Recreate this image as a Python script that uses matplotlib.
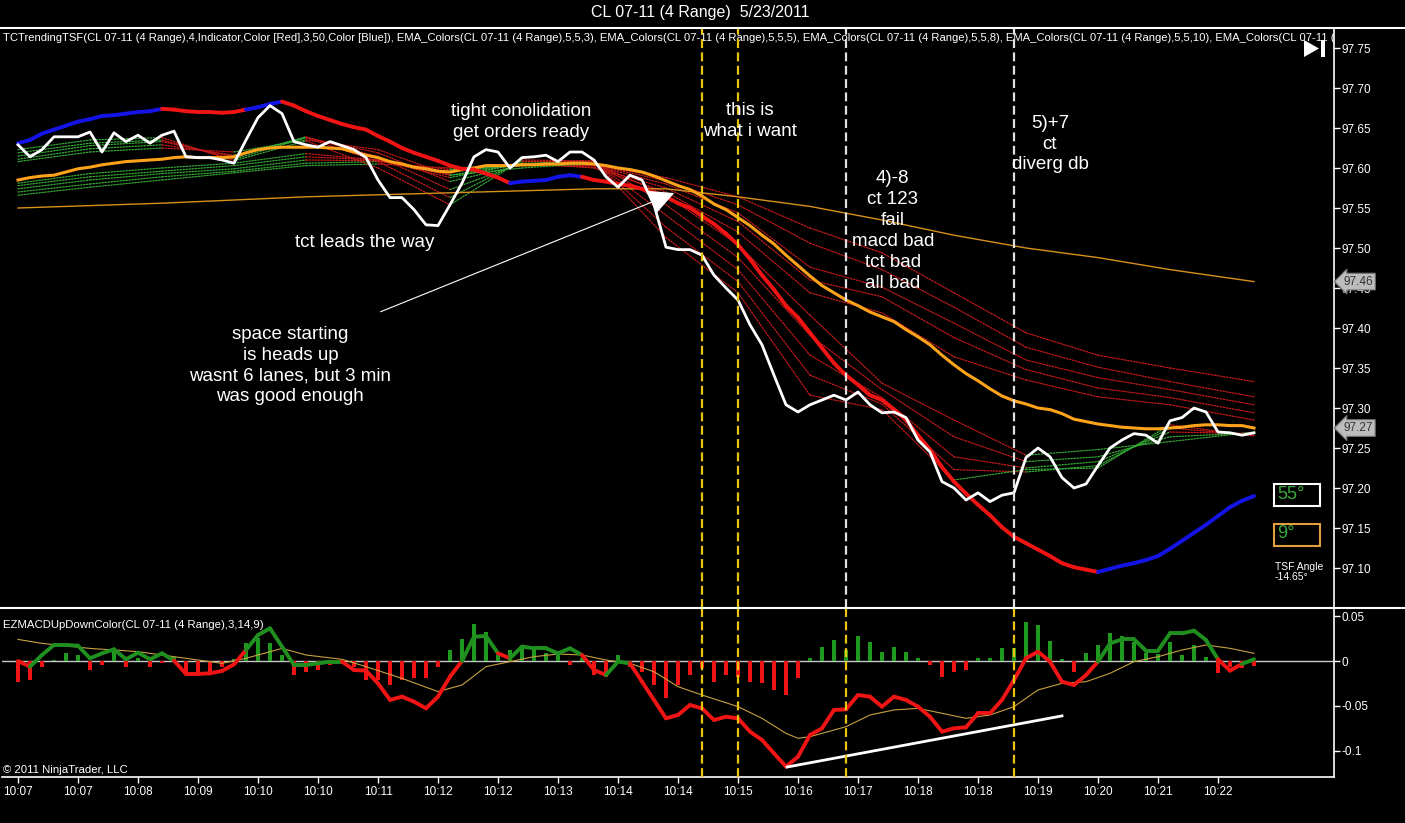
import numpy as np
import matplotlib
matplotlib.use("Agg")
import matplotlib.pyplot as plt
from matplotlib.collections import LineCollection
from matplotlib.patches import Rectangle, Polygon

plt.rcParams['font.family'] = ['Liberation Sans', 'DejaVu Sans']

# ---- values, x = bar number 0..103 ----
time_labels = ['10:07', '10:07', '10:08', '10:09', '10:10', '10:10', '10:11', '10:12',
               '10:12', '10:13', '10:14', '10:14', '10:15', '10:16', '10:17', '10:18',
               '10:18', '10:19', '10:20', '10:21', '10:22']

close = [97.629, 97.614, 97.623, 97.639, 97.639, 97.639, 97.645, 97.620, 97.644, 97.633,
         97.641, 97.631, 97.641, 97.646, 97.614, 97.613, 97.613, 97.610, 97.606, 97.635,
         97.663, 97.678, 97.668, 97.633, 97.629, 97.626, 97.633, 97.628, 97.623, 97.613,
         97.585, 97.563, 97.563, 97.548, 97.529, 97.528, 97.554, 97.581, 97.614, 97.623,
         97.620, 97.600, 97.613, 97.614, 97.616, 97.608, 97.620, 97.620, 97.610, 97.589,
         97.576, 97.591, 97.585, 97.554, 97.501, 97.498, 97.498, 97.491, 97.466, 97.450,
         97.435, 97.404, 97.379, 97.341, 97.304, 97.295, 97.304, 97.310, 97.316, 97.310,
         97.320, 97.304, 97.294, 97.295, 97.288, 97.260, 97.245, 97.208, 97.200, 97.185,
         97.194, 97.183, 97.191, 97.194, 97.238, 97.250, 97.239, 97.213, 97.200, 97.205,
         97.228, 97.250, 97.260, 97.268, 97.266, 97.256, 97.284, 97.288, 97.300, 97.295,
         97.270, 97.269, 97.266, 97.269]

tsf = [97.631, 97.635, 97.643, 97.648, 97.653, 97.658, 97.661, 97.665, 97.666, 97.668,
       97.670, 97.671, 97.674, 97.673, 97.671, 97.670, 97.670, 97.669, 97.670, 97.673,
       97.676, 97.680, 97.683, 97.678, 97.671, 97.665, 97.660, 97.655, 97.651, 97.648,
       97.640, 97.633, 97.625, 97.619, 97.614, 97.609, 97.603, 97.599, 97.598, 97.593,
       97.588, 97.581, 97.583, 97.584, 97.585, 97.589, 97.591, 97.589, 97.585, 97.583,
       97.580, 97.578, 97.574, 97.569, 97.564, 97.556, 97.550, 97.540, 97.530, 97.518,
       97.504, 97.486, 97.466, 97.448, 97.428, 97.413, 97.394, 97.375, 97.356, 97.341,
       97.329, 97.316, 97.310, 97.298, 97.285, 97.266, 97.248, 97.226, 97.208, 97.193,
       97.179, 97.166, 97.151, 97.139, 97.131, 97.123, 97.115, 97.106, 97.101, 97.098,
       97.095, 97.099, 97.103, 97.106, 97.110, 97.115, 97.124, 97.134, 97.144, 97.154,
       97.165, 97.176, 97.184, 97.190]
tsf_blue_spans = [(0, 12), (19, 22), (41, 47), (90, 103)]

ema_orange = [97.585, 97.588, 97.590, 97.591, 97.595, 97.599, 97.601, 97.604, 97.606, 97.608,
              97.609, 97.610, 97.611, 97.613, 97.614, 97.613, 97.613, 97.613, 97.614, 97.619,
              97.623, 97.625, 97.626, 97.626, 97.626, 97.626, 97.625, 97.624, 97.620, 97.616,
              97.613, 97.608, 97.605, 97.601, 97.599, 97.596, 97.595, 97.598, 97.600, 97.603,
              97.603, 97.603, 97.604, 97.604, 97.605, 97.605, 97.606, 97.606, 97.605, 97.603,
              97.600, 97.598, 97.595, 97.590, 97.584, 97.578, 97.573, 97.565, 97.555, 97.548,
              97.538, 97.528, 97.516, 97.505, 97.491, 97.478, 97.465, 97.453, 97.444, 97.435,
              97.428, 97.420, 97.414, 97.408, 97.398, 97.389, 97.379, 97.366, 97.354, 97.343,
              97.334, 97.324, 97.315, 97.309, 97.305, 97.300, 97.298, 97.293, 97.286, 97.283,
              97.280, 97.278, 97.276, 97.275, 97.274, 97.274, 97.275, 97.276, 97.278, 97.279,
              97.279, 97.278, 97.278, 97.275]

slow_idx = [0, 12, 24, 36, 48, 54, 60, 66, 72, 78, 84, 90, 96, 103]
slow_ema = [97.550, 97.556, 97.564, 97.569, 97.574, 97.574, 97.564, 97.552, 97.535, 97.516,
            97.500, 97.488, 97.473, 97.458]

# EMA ribbon, read every 6 bars
rib_idx = [0, 6, 12, 18, 24, 30, 36, 42, 48, 54, 60, 66, 72, 78, 84, 90, 96, 103]
rib_s1 = [97.566, 97.576, 97.585, 97.594, 97.603, 97.605, 97.600, 97.603, 97.604, 97.588,
          97.564, 97.525, 97.494, 97.444, 97.394, 97.366, 97.350, 97.333]
rib_s2 = [97.570, 97.580, 97.589, 97.596, 97.606, 97.608, 97.598, 97.603, 97.604, 97.584,
          97.554, 97.506, 97.473, 97.426, 97.376, 97.351, 97.333, 97.314]
rib_s3 = [97.574, 97.585, 97.593, 97.599, 97.610, 97.609, 97.595, 97.604, 97.603, 97.580,
          97.544, 97.476, 97.451, 97.406, 97.360, 97.338, 97.323, 97.304]
rib_s4 = [97.578, 97.589, 97.596, 97.603, 97.614, 97.610, 97.591, 97.605, 97.601, 97.575,
          97.533, 97.460, 97.439, 97.388, 97.348, 97.325, 97.313, 97.294]
rib_s5 = [97.581, 97.593, 97.600, 97.606, 97.618, 97.610, 97.588, 97.606, 97.600, 97.570,
          97.520, 97.444, 97.419, 97.364, 97.335, 97.314, 97.304, 97.285]
rib_f1 = [97.608, 97.620, 97.625, 97.620, 97.635, 97.623, 97.591, 97.600, 97.606, 97.566,
          97.504, 97.416, 97.331, 97.285, 97.241, 97.248, 97.258, 97.270]
rib_f2 = [97.611, 97.624, 97.629, 97.616, 97.638, 97.619, 97.583, 97.604, 97.608, 97.554,
          97.488, 97.391, 97.323, 97.264, 97.233, 97.239, 97.264, 97.269]
rib_f3 = [97.615, 97.628, 97.633, 97.614, 97.639, 97.614, 97.573, 97.606, 97.608, 97.541,
          97.473, 97.366, 97.313, 97.239, 97.225, 97.233, 97.270, 97.268]
rib_f4 = [97.619, 97.631, 97.635, 97.611, 97.638, 97.608, 97.563, 97.609, 97.609, 97.526,
          97.458, 97.341, 97.305, 97.223, 97.220, 97.228, 97.275, 97.266]
rib_f5 = [97.623, 97.635, 97.638, 97.609, 97.634, 97.600, 97.554, 97.610, 97.609, 97.513,
          97.444, 97.316, 97.298, 97.210, 97.223, 97.225, 97.279, 97.265]

macd = [0.0, -0.0063, 0.0067, 0.0178, 0.0178, 0.017, 0.003, 0.0085, 0.013, 0.0019,
        0.0093, 0.0019, 0.0085, 0.0004, -0.0144, -0.0144, -0.0137, -0.011, -0.0037, 0.0122,
        0.0289, 0.0363, 0.016, -0.0044, -0.0044, -0.0026, -0.0007, -0.0007, -0.01, -0.0107,
        -0.0248, -0.0433, -0.0396, -0.0452, -0.0526, -0.0396, -0.0174, 0.0, 0.027, 0.0278,
        0.0085, 0.003, 0.016, 0.0141, 0.0141, 0.0085, 0.0141, 0.0067, -0.01, -0.0156,
        -0.0007, -0.0026, -0.023, -0.0433, -0.0637, -0.06, -0.0489, -0.0526, -0.0656, -0.0619,
        -0.0637, -0.0785, -0.0878, -0.1026, -0.1174, -0.1063, -0.0822, -0.0748, -0.0544, -0.0537,
        -0.0378, -0.0396, -0.0507, -0.0396, -0.0433, -0.0507, -0.0619, -0.0785, -0.0748, -0.0737,
        -0.0581, -0.0581, -0.0433, -0.0211, 0.003, 0.0104, -0.0007, -0.023, -0.0267, -0.0156,
        -0.0007, 0.0196, 0.0241, 0.0241, 0.0115, 0.0115, 0.0307, 0.0307, 0.0337, 0.0233,
        0.0019, -0.0107, -0.0033, 0.0019]
macd_green_spans = [(1, 13), (19, 27), (37, 40), (41, 47), (49, 51), (90, 100), (102, 103)]

hist = [-0.023, -0.021, -0.0063, 0.001, 0.0085, 0.0067, -0.01, -0.0044, 0.0122, -0.0063,
        0.003, -0.0063, -0.0026, 0.004, -0.0119, -0.0119, -0.0119, -0.0063, 0.0019, 0.0196,
        0.0252, 0.0196, 0.0067, -0.0156, -0.0119, -0.01, -0.0044, -0.0026, -0.0063, -0.0211,
        -0.0211, -0.0267, -0.0211, -0.0193, -0.0193, -0.0063, 0.0122, 0.0241, 0.0411, 0.0326,
        0.0067, 0.0122, 0.0159, 0.0159, 0.0085, 0.0067, -0.0044, 0.003, -0.0156, -0.0174,
        0.0067, -0.0063, -0.0119, -0.0267, -0.0415, -0.0267, -0.0156, -0.0081, -0.023, -0.0156,
        -0.0174, -0.023, -0.0248, -0.0322, -0.0378, -0.0193, 0.003, 0.0159, 0.0233, 0.0122,
        0.0278, 0.0215, 0.0104, 0.0159, 0.0104, 0.003, -0.0044, -0.0181, -0.0119, -0.01,
        0.0037, 0.003, 0.0148, 0.0141, 0.0437, 0.04, 0.0222, 0.0019, -0.0119, 0.0093,
        0.0178, 0.0315, 0.0278, 0.0215, 0.0085, 0.0078, 0.0215, 0.0067, 0.0178, 0.0048,
        -0.013, -0.0063, -0.0081, -0.0056]

sig_idx = [0, 2, 6, 10, 13, 17, 19, 22, 24, 27, 29, 32, 35, 37, 39, 41, 43, 45, 47, 49,
           51, 53, 55, 57, 60, 62, 64, 65, 66, 69, 71, 73, 75, 77, 79, 81, 83, 85, 87, 89,
           91, 93, 95, 97, 99, 101, 103]
signal = [0.024, 0.0196, 0.014, 0.0104, 0.0048, -0.0026, 0.003, 0.014, 0.0067, 0.0019,
          -0.0063, -0.0193, -0.034, -0.0267, -0.0063, -0.0007, 0.0048, 0.0078, 0.0067, 0.0011,
          -0.0026, -0.0119, -0.0285, -0.0378, -0.0507, -0.0637, -0.0804, -0.0859, -0.0841, -0.073,
          -0.06, -0.0544, -0.0526, -0.0581, -0.0637, -0.06, -0.0507, -0.0322, -0.0248, -0.023,
          -0.0137, -0.0007, 0.0048, 0.0122, 0.0178, 0.0141, 0.0085]

marks_yellow = [57, 60]
marks_white = [69, 83]
div_x = [64.1, 87.0]
div_y = [-0.1178, -0.061]

RED = '#f01414'
BLUE = '#1414e6'
GREEN = '#1f8f1f'
YELLOW = '#e8c410'

W, H = 1405, 823


def fx(x):
    return x / W


def fy(y):
    return 1 - y / H


def in_spans(i, spans):
    return any(a <= i < b for a, b in spans)


def seg_line(ax, xs, ys, colors, lw, ls='solid', z=3):
    pts = np.column_stack([xs, ys])
    segs = np.stack([pts[:-1], pts[1:]], axis=1)
    lc = LineCollection(segs, colors=colors, linewidths=lw, linestyles=ls, zorder=z,
                        capstyle='round', joinstyle='round')
    ax.add_collection(lc)


fig = plt.figure(figsize=(W / 100, H / 100), dpi=100, facecolor='black')

ax1 = fig.add_axes([fx(2), fy(608), fx(1334) - fx(2), fy(28) - fy(608)])
ax2 = fig.add_axes([fx(2), fy(777), fx(1334) - fx(2), fy(608) - fy(777)])

for ax in (ax1, ax2):
    ax.set_facecolor('black')
    ax.set_xlim(-1.333, 109.667)
    ax.spines['left'].set_visible(False)
    ax.spines['top'].set_visible(False)
    ax.spines['right'].set_color('white')
    ax.spines['right'].set_linewidth(1.2)
    ax.yaxis.tick_right()
    ax.tick_params(axis='y', colors='white', labelcolor='white', length=4, width=1,
                   labelsize=8.5, pad=1.5)
ax1.spines['bottom'].set_visible(False)
ax2.spines['bottom'].set_color('white')
ax2.spines['bottom'].set_linewidth(1.2)

# ---- price panel ----
ax1.set_ylim(97.05, 97.775)
pt = np.arange(97.10, 97.751, 0.05)
ax1.set_yticks(pt)
ax1.set_yticklabels([f"{v:.2f}" for v in pt])
ax1.set_xticks([])

for line in (rib_s1, rib_s2, rib_s3, rib_s4, rib_s5, rib_f1, rib_f2, rib_f3, rib_f4, rib_f5):
    cols = ['#35a835' if line[k + 1] > line[k] else '#c81a1a' for k in range(len(line) - 1)]
    seg_line(ax1, rib_idx, line, cols, 0.9, ls=(0, (1.2, 1.2)), z=2)

ax1.plot(slow_idx, slow_ema, color='#d8901c', lw=1.0, zorder=2)
ax1.plot(range(len(ema_orange)), ema_orange, color='#ffa41a', lw=2.2, zorder=3)

n = len(tsf)
tsf_cols = [BLUE if in_spans(i, tsf_blue_spans) else RED for i in range(n - 1)]
seg_line(ax1, range(n), tsf, tsf_cols, 2.8, z=4)

ax1.plot(range(len(close)), close, color='white', lw=2.0, zorder=5)

for m in marks_yellow:
    ax1.axvline(m, color=YELLOW, lw=1.6, ls=(0, (4, 2)), zorder=6)
for m in marks_white:
    ax1.axvline(m, color='#e0e0e0', lw=1.6, ls=(0, (4, 2)), zorder=6)

ax1.annotate('', xy=(54.9, 97.570), xytext=(30, 97.419),
             arrowprops=dict(arrowstyle='-|>,head_length=0.9,head_width=0.45',
                             color='white', lw=0.8, mutation_scale=18), zorder=7)

note_kw = dict(color='white', fontsize=13.5, ha='center', va='center', linespacing=1.3, zorder=8)
ax1.text(41.9, 97.6575, "tight conolidation\nget orders ready", **note_kw)
ax1.text(61.0, 97.659, "this is\nwhat i want", **note_kw)
ax1.text(86.0, 97.630, "5)+7\nct\ndiverg db", **note_kw)
ax1.text(72.9, 97.521, "4)-8\nct 123\nfail\nmacd bad\ntct bad\nall bad", **note_kw)
ax1.text(28.9, 97.5075, "tct leads the way", **note_kw)
ax1.text(22.7, 97.353, "space starting\nis heads up\nwasnt 6 lanes, but 3 min\nwas good enough", **note_kw)

ax1.text(0.001, 0.982,
         "TCTrendingTSF(CL 07-11 (4 Range),4,Indicator,Color [Red],3,50,Color [Blue]), "
         "EMA_Colors(CL 07-11 (4 Range),5,5,3), EMA_Colors(CL 07-11 (4 Range),5,5,5), "
         "EMA_Colors(CL 07-11 (4 Range),5,5,8), EMA_Colors(CL 07-11 (4 Range),5,5,10), "
         "EMA_Colors(CL 07-11 (4 Range),5,5,12)",
         transform=ax1.transAxes, color='white', fontsize=8.1, ha='left', va='center',
         clip_on=True, family=['Liberation Sans Narrow', 'Liberation Sans'])

ax1.text(1.007, slow_ema[-1], f"{slow_ema[-1]:.2f}", transform=ax1.get_yaxis_transform(),
         ha='left', va='center', fontsize=8.5, color='#333333', zorder=10, clip_on=False,
         bbox=dict(boxstyle='larrow,pad=0.2', fc='#bcbcbc', ec='#707070', lw=0.8))
ax1.text(1.007, 97.275, f"{close[-1]:.2f}", transform=ax1.get_yaxis_transform(),
         ha='left', va='center', fontsize=8.5, color='#333333', zorder=10, clip_on=False,
         bbox=dict(boxstyle='larrow,pad=0.2', fc='#bcbcbc', ec='#707070', lw=0.8))

# ---- MACD panel ----
ax2.set_ylim(-0.1289, 0.0589)
ax2.set_yticks([0.05, 0, -0.05, -0.1])
ax2.set_yticklabels(['0.05', '0', '-0.05', '-0.1'])
ax2.axhline(0, color='#c8c8c8', lw=1.0, zorder=1)
ax2.bar(range(len(hist)), hist, width=0.3,
        color=['#1f9a1f' if v > 0 else RED for v in hist], zorder=2)
ax2.plot(sig_idx, signal, color='#c8a040', lw=0.8, zorder=3)
nm = len(macd)
macd_cols = [GREEN if in_spans(i, macd_green_spans) else RED for i in range(nm - 1)]
seg_line(ax2, range(nm), macd, macd_cols, 2.8, z=4)
ax2.plot(div_x, div_y, color='white', lw=2.0, zorder=5)
for m in marks_yellow + marks_white:
    ax2.axvline(m, color=YELLOW, lw=1.6, ls=(0, (4, 2)), zorder=6)

ax2.set_xticks(range(0, 101, 5))
ax2.set_xticklabels(time_labels)
ax2.tick_params(axis='x', colors='white', labelcolor='white', length=4.5, width=1,
                labelsize=8.5, pad=2)

ax2.text(0.001, 0.9, "EZMACDUpDownColor(CL 07-11 (4 Range),3,14,9)", transform=ax2.transAxes,
         color='white', fontsize=8.2, ha='left', va='center')
ax2.text(0.001, 0.04, "\u00a9 2011 NinjaTrader, LLC", transform=ax2.transAxes,
         color='white', fontsize=8.2, ha='left', va='center')

# ---- frame, title and side boxes ----
for yy in (27.5, 608):
    fig.add_artist(plt.Line2D([0, 1], [fy(yy), fy(yy)], color='white', lw=1.5,
                              transform=fig.transFigure))
fig.text(fx(700), fy(13), "CL 07-11 (4 Range)  5/23/2011", color='white', fontsize=11.5,
         ha='center', va='center')

fig.add_artist(Polygon([[fx(1304), fy(40)], [fx(1304), fy(57)], [fx(1319), fy(48.5)]],
                       closed=True, fc='white', ec='none', transform=fig.transFigure))
fig.add_artist(Rectangle((fx(1321), fy(57)), fx(4), 17 / H, fc='white', ec='none',
                         transform=fig.transFigure))

fig.add_artist(Rectangle((fx(1274), fy(506)), fx(46), 22 / H, fc='none', ec='white', lw=1.5,
                         transform=fig.transFigure))
fig.add_artist(Rectangle((fx(1274), fy(546)), fx(46), 22 / H, fc='none', ec='#e0a040', lw=1.5,
                         transform=fig.transFigure))
fig.text(fx(1277), fy(494), "55\u00b0", color='#3aa83a', fontsize=13, ha='left', va='center')
fig.text(fx(1277), fy(534), "9\u00b0", color='#3aa83a', fontsize=13, ha='left', va='center')
fig.text(fx(1275), fy(572), "TSF Angle\n-14.65\u00b0", color='white', fontsize=7.5,
         ha='left', va='center', linespacing=1.0)

fig.savefig("out.png", dpi=100, facecolor='black')
